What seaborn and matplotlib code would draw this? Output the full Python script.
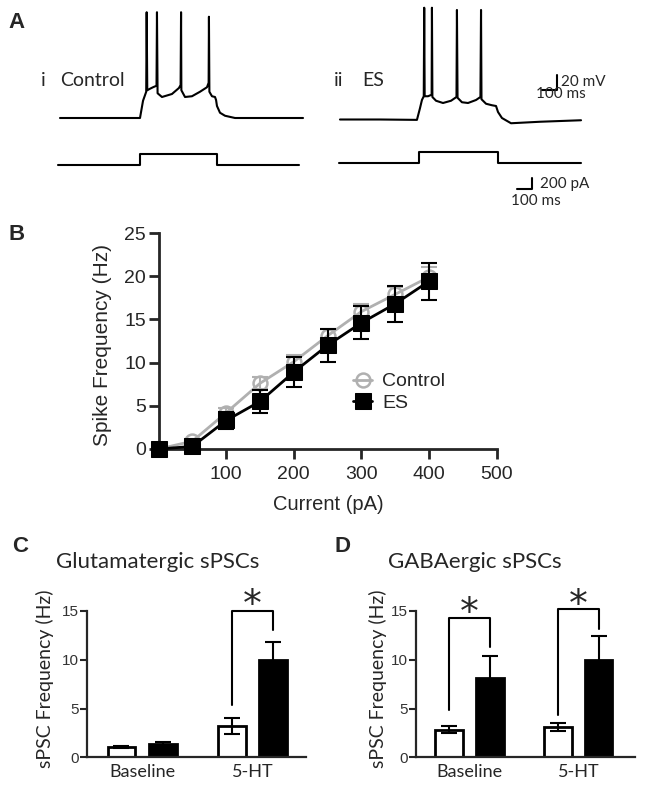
import numpy as np
import pandas as pd
import matplotlib
matplotlib.use("Agg")
import matplotlib.pyplot as plt
import seaborn as sns

W, H = 646, 788
MS_PX = 6.6          # panel A: ms per pixel
MV_PX = 1.333        # mV per pixel
PA_PX = 200 / 11     # pA per pixel

# --- A: example traces, time from step onset (ms) ---
ctrl_t = [-528, 0, 20, 41, 44, 48, 66, 86, 109, 112, 116, 145, 211, 257, 268, 271,
          273, 297, 343, 396, 442, 453, 455, 458, 475, 495, 502, 508, 528, 561, 627, 1076]
ctrl_v = [-65, -65, -42, -30, 76, -28, -26, -24, -22, 76, -32, -37, -33, -25, -21, 76,
          -28, -37, -36, -30, -24, -18, 70, -30, -36, -37, -41, -49, -58, -62, -65, -65]
es_t = [-515, -251, -7, 13, 26, 38, 41, 44, 66, 90, 92, 95, 119, 165, 218, 254,
        257, 261, 290, 330, 383, 412, 416, 419, 449, 488, 515, 528, 554, 614, 805, 1076]
es_v = [-65, -65, -65.5, -50, -39, -34, 84, -34, -34, -32, 84, -35, -40, -43, -40, -35,
        81, -36, -42, -43, -39, -35, 81, -38, -44, -46, -47, -55, -63, -70, -68, -66]
ctrl_step_t = [-538, 0, 0, 505, 505, 1050]
es_step_t = [-528, 0, 0, 521, 521, 1069]
step_pa = [0, 0, 200, 200, 0, 0]
SCALE_MS, SCALE_MV, SCALE_PA = 100, 20, 200

# --- B: spike frequency vs injected current ---
current_pa = [0, 50, 100, 150, 200, 250, 300, 350, 400]
ctrl_hz = [0, 0.9, 4.2, 7.6, 10.1, 13.1, 15.9, 17.9, 19.9]
ctrl_sem = [0.1, 0.3, 0.6, 0.7, 0.8, 0.8, 0.9, 0.9, 1.2]
es_hz = [0, 0.3, 3.3, 5.5, 8.9, 12.0, 14.6, 16.8, 19.4]
es_sem = [0.1, 0.3, 1.0, 1.35, 1.7, 1.9, 1.9, 2.1, 2.15]

# --- C / D: sPSC frequency ---
groups = ["Baseline", "5-HT"]
glu_ctrl = [1.03, 3.21]
glu_ctrl_sem = [0.12, 0.8]
glu_es = [1.35, 9.98]
glu_es_sem = [0.23, 1.8]
gaba_ctrl = [2.85, 3.09]
gaba_ctrl_sem = [0.4, 0.41]
gaba_es = [8.14, 9.96]
gaba_es_sem = [2.27, 2.47]
# (group, left leg bottom, top, right leg bottom, star height)
glu_brackets = [(1, 5.36, 15.0, 13.1, 16.6)]
gaba_brackets = [(0, 4.8, 14.3, 11.26, 15.8), (1, 4.36, 15.17, 13.2, 16.65)]

sns.set_style("ticks")
plt.rcParams["font.family"] = ["Liberation Sans", "DejaVu Sans"]
plt.rcParams["axes.linewidth"] = 2

fig = plt.figure(figsize=(W / 100, H / 100), dpi=100)


def px_rect(x0, y0, x1, y1):
    return [x0 / W, 1 - y1 / H, (x1 - x0) / W, (y1 - y0) / H]


def ftext(x, y, s, **kw):
    kw.setdefault("va", "center")
    fig.text(x / W, 1 - y / H, s, **kw)


def trace_ax(x0, y0, x1, y1, onset_px, base_px, base_val, per_px):
    ax = fig.add_axes(px_rect(x0, y0, x1, y1))
    ax.set_xlim((x0 - onset_px) * MS_PX, (x1 - onset_px) * MS_PX)
    ax.set_ylim(base_val - (y1 - base_px) * per_px, base_val + (base_px - y0) * per_px)
    ax.axis("off")
    return ax


# Panel A
axv1 = trace_ax(30, 0, 330, 140, 140, 118, -65, MV_PX)
axi1 = trace_ax(30, 140, 330, 210, 140, 165, 0, PA_PX)
axv2 = trace_ax(330, 0, 640, 140, 418, 119.5, -65, MV_PX)
axi2 = trace_ax(330, 140, 640, 210, 419, 163, 0, PA_PX)
for ax, t, y in [(axv1, ctrl_t, ctrl_v), (axi1, ctrl_step_t, step_pa),
                 (axv2, es_t, es_v), (axi2, es_step_t, step_pa)]:
    sns.lineplot(x=t, y=y, ax=ax, color="black", lw=1.5, estimator=None, sort=False)

# scale bars
axv2.plot([917 - SCALE_MS, 917, 917], [-26, -26, -26 + SCALE_MV], color="black", lw=1.5)
axi2.plot([746 - SCALE_MS, 746, 746], [-473, -473, -473 + SCALE_PA], color="black", lw=1.5)

lato = dict(fontfamily="Lato")
ftext(41, 81, "i", fontsize=14, **lato)
ftext(60, 81, "Control", fontsize=14, **lato)
ftext(334, 81, "ii", fontsize=14, **lato)
ftext(362, 81, "ES", fontsize=14, **lato)
ftext(561, 82, f"{SCALE_MV} mV", fontsize=11, **lato)
ftext(536, 94, f"{SCALE_MS} ms", fontsize=11, **lato)
ftext(540, 184, f"{SCALE_PA} pA", fontsize=11, **lato)
ftext(511, 201, f"{SCALE_MS} ms", fontsize=11, **lato)

for x, y, s in [(8, 22, "A"), (8, 235, "B"), (12, 546, "C"), (334, 546, "D")]:
    ftext(x, y, s, fontsize=16, fontweight="bold")

# Panel B
axb = fig.add_axes(px_rect(158.6, 233, 496.5, 449))
grey = "#b0b0b0"
sns.lineplot(x=current_pa, y=ctrl_hz, ax=axb, color=grey, lw=2, marker="o", ms=10,
             mfc="none", mec=grey, mew=1.8, label="Control", clip_on=False, zorder=2)
axb.errorbar(current_pa, ctrl_hz, yerr=ctrl_sem, fmt="none", ecolor=grey,
             elinewidth=1.5, capsize=6, capthick=1.5, clip_on=False, zorder=2)
axb.errorbar(current_pa, es_hz, yerr=es_sem, fmt="none", ecolor="black",
             elinewidth=1.5, capsize=6, capthick=1.5, clip_on=False, zorder=3)
sns.lineplot(x=current_pa, y=es_hz, ax=axb, color="black", lw=2, marker="s", ms=12,
             mfc="black", mec="black", label="ES", clip_on=False, zorder=4)
axb.set_xlim(0, 500)
axb.set_ylim(0, 25)
axb.set_xticks([100, 200, 300, 400, 500])
axb.set_yticks([0, 5, 10, 15, 20, 25])
axb.tick_params(length=7, width=2, labelsize=14, pad=2)
axb.tick_params(axis="x", pad=5)
sns.despine(ax=axb)
axb.spines["left"].set_bounds(0, 25)
axb.spines["bottom"].set_bounds(0, 500)
axb.set_ylabel("Spike Frequency (Hz)", fontsize=15, va="center")
axb.yaxis.set_label_coords(-0.165, 0.48)
axb.set_xlabel("Current (pA)", fontsize=14.5, va="center")
axb.xaxis.set_label_coords(0.501, -0.259)
axb.legend(loc="center left", bbox_to_anchor=(0.575, 0.262), frameon=False,
           handlelength=1.0, handletextpad=0.5, labelspacing=0.2,
           borderaxespad=0, borderpad=0, fontsize=14)


def spsc_panel(rect, xlim, title, title_x, ylab_x, ctrl, ctrl_e, es, es_e, brackets):
    ax = fig.add_axes(px_rect(*rect))
    df = pd.DataFrame({"group": groups * 2,
                       "cond": ["Control"] * 2 + ["ES"] * 2,
                       "hz": ctrl + es})
    sns.barplot(data=df, x="group", y="hz", hue="cond",
                palette={"Control": "white", "ES": "black"}, edgecolor="black",
                linewidth=2, width=0.75, gap=0.33, errorbar=None, legend=False, ax=ax)
    bars = sorted(ax.patches, key=lambda p: p.get_x())
    sems = [ctrl_e[0], es_e[0], ctrl_e[1], es_e[1]]
    centers = []
    for bar, s in zip(bars, sems):
        cx = bar.get_x() + bar.get_width() / 2
        centers.append(cx)
        ax.errorbar(cx, bar.get_height(), yerr=s, fmt="none", ecolor="black",
                    elinewidth=1.5, capsize=6, capthick=1.5, zorder=3)
    for g, lb, top, rb, star in brackets:
        lx, rx = centers[2 * g], centers[2 * g + 1]
        ax.plot([lx, lx, rx, rx], [lb, top, top, rb], color="black", lw=1.5, clip_on=False)
        ax.annotate("*", xy=((lx + rx) / 2, star), xytext=(0, -15), textcoords="offset points",
                    ha="center", va="baseline", fontsize=27, fontfamily="DejaVu Sans",
                    annotation_clip=False)
    ax.set_xlim(*xlim)
    ax.set_ylim(0, 15)
    ax.set_yticks([0, 5, 10, 15])
    ax.tick_params(axis="y", length=5, width=1.5, labelsize=11, pad=1, labelcolor="#333333")
    ax.tick_params(axis="x", length=0, pad=5)
    for lab in ax.get_xticklabels():
        lab.set_fontfamily("Lato")
        lab.set_fontsize(13)
    sns.despine(ax=ax)
    for sp in ax.spines.values():
        sp.set_linewidth(1.6)
    ax.spines["left"].set_bounds(0, 15)
    ax.set_xlabel("")
    ax.set_ylabel("sPSC Frequency (Hz)", fontsize=14, fontfamily="Lato", va="center")
    ax.yaxis.set_label_coords(ylab_x, 0.54)
    ftext(title_x, 562, title, fontsize=16, ha="center", **lato)
    return ax


spsc_panel((87, 611, 306, 757.3), (-0.50, 1.487), "Glutamatergic sPSCs", 157.5, -0.19,
           glu_ctrl, glu_ctrl_sem, glu_es, glu_es_sem, glu_brackets)
spsc_panel((416, 611, 635, 757.3), (-0.492, 1.521), "GABAergic sPSCs", 475, -0.175,
           gaba_ctrl, gaba_ctrl_sem, gaba_es, gaba_es_sem, gaba_brackets)

fig.savefig("out.png", dpi=100)
